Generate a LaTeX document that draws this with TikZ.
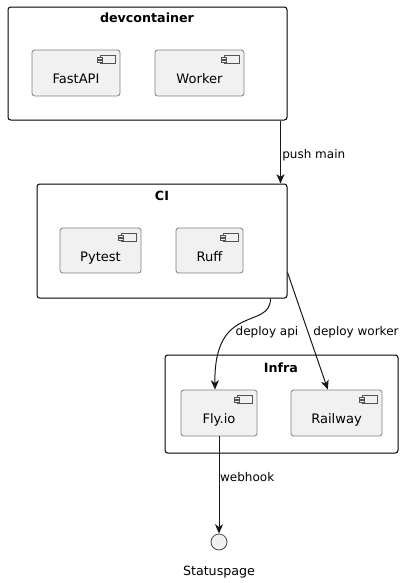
\documentclass[tikz,border=0pt]{standalone}
\usepackage{fontspec}
\setmainfont{DejaVu Sans}
\usepackage{tikz}
\usetikzlibrary{arrows.meta,calc}
\definecolor{compfill}{HTML}{F1F1F1}
\definecolor{umlline}{HTML}{181818}
\tikzset{
    pkg/.style={draw=black, line width=0.75pt, rounded corners=2pt, inner sep=0pt},
    pkgtitle/.style={font=\fontsize{9.5}{11}\selectfont\bfseries, inner sep=0pt},
    comp/.style={draw=umlline!55, fill=compfill, line width=0.6pt, rounded corners=2pt,
        minimum height=34.5pt, inner sep=0pt, text height=16pt, text depth=0pt,
        font=\fontsize{9.8}{11}\selectfont},
    lbl/.style={font=\fontsize{9}{11}\selectfont, inner sep=0pt},
    flow/.style={draw=umlline, line width=0.75pt, -{Stealth[length=7pt,width=6pt,inset=2pt]}},
    compicon/.pic={
        % little component symbol in the top right corner
        \draw[umlline!75, line width=0.35pt, fill=compfill] (-20,6) rectangle (-5,14);
        \draw[umlline!75, line width=0.35pt, fill=compfill] (-23,8) rectangle (-18,9.5);
        \draw[umlline!75, line width=0.35pt, fill=compfill] (-23,11) rectangle (-18,12.5);
    }
}
\begin{document}
\begin{tikzpicture}[x=0.75pt, y=-0.75pt]
    \useasboundingbox (0,0) rectangle (407,583);

    % Draw the three packages
    \node[pkg, minimum width=209.25pt, minimum height=84.75pt] (dev) at (147.5,63.5) {};
    \node[pkgtitle] (devtitle) at (147,18) {devcontainer};
    \node[pkg, minimum width=187.5pt, minimum height=85.5pt] (ci) at (162,241) {};
    \node[pkgtitle] (cititle) at (162,196) {CI};
    \node[pkg, minimum width=174.75pt, minimum height=73.5pt] (infra) at (281.5,404) {};
    \node[pkgtitle] (infratitle) at (281,368) {Infra};

    % Draw the components
    \node[comp, minimum width=66pt] (fastapi) at (76,73) {FastAPI};
    \node[comp, minimum width=66.75pt] (worker) at (199.5,73) {Worker};
    \node[comp, minimum width=60.75pt, minimum height=33.75pt] (pytest) at (100.5,250.5) {Pytest};
    \node[comp, minimum width=50.25pt, minimum height=33.75pt] (ruff) at (209.5,250.5) {Ruff};
    \node[comp, minimum width=57pt] (fly) at (219,413) {Fly.io};
    \node[comp, minimum width=68.25pt] (railway) at (336.5,413) {Railway};
    \foreach \c in {fastapi,worker,pytest,ruff,fly,railway}
        \pic at (\c.north east) {compicon};

    % Draw the interface
    \node[circle, draw=umlline!80, fill=compfill, line width=0.6pt, minimum size=12pt, inner sep=0pt] (status) at (219,542) {};
    \node[font=\fontsize{9.5}{11}\selectfont, inner sep=0pt] (statuslbl) at (219,572) {Statuspage};

    % Draw the flows
    \draw[flow] ([xshift=-5.25pt]dev.south east) -- ([xshift=-5.25pt]ci.north east)
        node[lbl, pos=0.55, anchor=west, xshift=1pt] (pushlbl) {push main};
    \draw[flow] ([xshift=-12.75pt]ci.south east) .. controls ($([xshift=-12.75pt]ci.south east)+(0,32)$) and ($([xshift=-4pt]fly.north)+(0,-88)$) .. ([xshift=-3pt]fly.north);
    \node[lbl] (apilbl) at (267,332) {deploy api};
    \draw[flow] ([yshift=19.5pt]ci.south east) -- ([xshift=-6.5pt]railway.north);
    \node[lbl] (workerlbl) at (356,332) {deploy worker};
    \draw[flow] (fly.south) -- (status.north)
        node[lbl, pos=0.42, anchor=west, xshift=0.5pt] (hooklbl) {webhook};
\end{tikzpicture}
\end{document}
